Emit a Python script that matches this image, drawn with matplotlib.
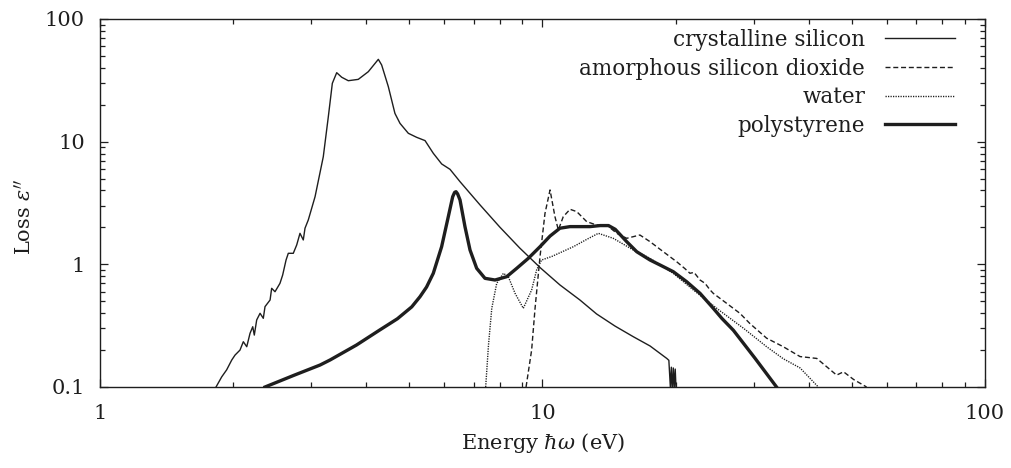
import matplotlib
matplotlib.use("Agg")
import matplotlib.pyplot as plt

plt.rcParams['font.family'] = ['DejaVu Serif']
plt.rcParams['mathtext.fontset'] = 'dejavuserif'
plt.rcParams['lines.scale_dashes'] = False

# ---- data ----
si_E = [1.829, 1.884, 1.933, 1.985, 2.019, 2.072, 2.108, 2.146, 2.183, 2.214, 2.232, 2.26, 2.30,
        2.339, 2.36, 2.423, 2.443, 2.486, 2.551, 2.587, 2.633, 2.664, 2.734, 2.783, 2.831, 2.88,
        2.906, 2.956, 3.062, 3.196, 3.281, 3.35, 3.427, 3.518, 3.64, 3.834, 4.04, 4.256, 4.33,
        4.483, 4.64, 4.764, 4.975, 5.195, 5.427, 5.665, 5.918, 6.18, 6.51, 7.225, 8.01, 8.88,
        9.9, 10.95, 12.15, 13.25, 14.58, 16.04, 17.5, 19.09, 19.3, 19.45, 19.55, 19.65, 19.75,
        19.85, 19.95, 20.05]
si_y = [0.1, 0.121, 0.138, 0.166, 0.182, 0.2, 0.234, 0.213, 0.274, 0.31, 0.265, 0.352, 0.399,
        0.363, 0.452, 0.512, 0.638, 0.598, 0.70, 0.818, 1.084, 1.23, 1.23, 1.438, 1.79, 1.58,
        1.97, 2.30, 3.56, 7.54, 16.0, 29.9, 36.5, 33.5, 31.4, 32.2, 37.2, 46.9, 42.2,
        28.1, 17.0, 14.1, 11.7, 10.85, 10.2, 8.04, 6.58, 5.95, 4.72, 3.05, 2.01, 1.36,
        0.933, 0.679, 0.512, 0.394, 0.314, 0.257, 0.216, 0.171, 0.165, 0.10, 0.145, 0.09, 0.143,
        0.10, 0.14, 0.09]

sio2_E = [9.18, 9.45, 9.62, 9.87, 10.13, 10.4, 10.67, 10.86, 11.14, 11.54, 11.95, 12.59, 13.26,
          13.97, 14.72, 15.5, 16.6, 17.5, 18.75, 20.1, 21.0, 21.54, 22.0, 22.7, 23.3, 23.9, 24.32,
          26.07, 27.95, 29.4, 32.1, 35.0, 38.2, 41.66, 44.0, 46.2, 47.9, 50.5, 54.0]
sio2_y = [0.1, 0.2, 0.438, 1.15, 2.6, 4.04, 2.445, 1.905, 2.445, 2.81, 2.69, 2.226, 2.09,
          2.09, 1.79, 1.63, 1.734, 1.53, 1.267, 1.05, 0.92, 0.845, 0.86, 0.745, 0.70, 0.62, 0.58,
          0.481, 0.398, 0.33, 0.25, 0.213, 0.177, 0.171, 0.145, 0.125, 0.133, 0.115, 0.1]

water_E = [7.44, 7.55, 7.68, 7.88, 8.16, 8.37, 8.67, 9.05, 9.45, 9.70, 9.95, 10.5, 11.74, 12.6,
           13.37, 14.45, 16.04, 17.5, 19.75, 21.92, 25.2, 28.5, 32.1, 35.0, 38.2, 42.0]
water_y = [0.1, 0.22, 0.438, 0.70, 0.845, 0.793, 0.58, 0.438, 0.618, 0.90, 1.084, 1.16, 1.392, 1.6,
           1.79, 1.63, 1.309, 1.12, 0.845, 0.618, 0.417, 0.30, 0.213, 0.17, 0.143, 0.1]

ps_E = [2.36, 2.75, 3.142, 3.31, 3.8, 4.29, 4.70, 5.064, 5.287, 5.47, 5.665, 5.916, 6.125, 6.267,
        6.33, 6.376, 6.43, 6.51, 6.68, 6.858, 7.10, 7.413, 7.81, 8.30, 8.745, 9.29, 9.87, 10.4,
        10.95, 11.54, 12.15, 12.8, 13.5, 14.1, 14.6, 15.5, 16.33, 17.5, 18.43, 19.75, 21.18, 22.7,
        24.32, 25.42, 27.0, 30.2, 33.8]
ps_y = [0.1, 0.125, 0.151, 0.166, 0.22, 0.292, 0.36, 0.45, 0.545, 0.653, 0.845, 1.392, 2.445, 3.56,
        3.86, 3.91, 3.75, 3.35, 2.03, 1.309, 0.928, 0.769, 0.745, 0.793, 0.928, 1.12, 1.392, 1.70,
        1.97, 2.03, 2.03, 2.03, 2.07, 2.07, 1.93, 1.53, 1.267, 1.084, 0.988, 0.871, 0.721, 0.58,
        0.438, 0.363, 0.29, 0.172, 0.1]

labels = ["crystalline silicon", "amorphous silicon dioxide", "water", "polystyrene"]
xticks = [1, 10, 100]
xticklabels = ["1", "10", "100"]
yticks = [0.1, 1, 10, 100]
yticklabels = ["0.1", "1", "10", "100"]

ink = "#1e1e1e"

fig = plt.figure(figsize=(10.12, 4.68), dpi=100)
ax = fig.add_axes([100/1012, 1 - 387/468, 885/1012, 368/468])

ax.plot(si_E, si_y, color=ink, lw=1.0, label=labels[0])
ax.plot(sio2_E, sio2_y, color=ink, lw=1.0, dashes=(3.6, 2.0), label=labels[1])
ax.plot(water_E, water_y, color=ink, lw=1.0, dashes=(0.9, 0.9), label=labels[2])
ax.plot(ps_E, ps_y, color=ink, lw=2.4, label=labels[3])

ax.set_xscale('log')
ax.set_yscale('log')
ax.set_xlim(1, 100)
ax.set_ylim(0.1, 100)
ax.set_xticks(xticks)
ax.set_xticklabels(xticklabels)
ax.set_yticks(yticks)
ax.set_yticklabels(yticklabels)

ax.tick_params(which='both', direction='in', top=True, right=True, color=ink, labelcolor=ink,
               labelsize=15, width=0.9)
ax.tick_params(which='major', length=6)
ax.tick_params(axis='x', which='major', pad=12)
ax.tick_params(axis='y', which='major', pad=11)
ax.tick_params(which='minor', length=3.5)
for s in ax.spines.values():
    s.set_color(ink)
    s.set_linewidth(1.0)

ax.set_xlabel(r"Energy $\hbar\omega$ (eV)", fontsize=15, color=ink)
ax.xaxis.set_label_coords(0.5, -(441 - 387 + 2) / 368)
ax.xaxis.label.set_va('center')
ax.set_ylabel(r"Loss $\epsilon''$", fontsize=15, color=ink)
ax.yaxis.set_label_coords((25 - 100) / 885, (387 - 217) / 368)
ax.yaxis.label.set_va('center')

leg = ax.legend(loc='upper right', bbox_to_anchor=(1.0 - 30/885, 1.0 - 10/368), frameon=False,
                markerfirst=False, fontsize=15.5, handlelength=3.25, handletextpad=0.93,
                labelspacing=0.31, borderaxespad=0.0, borderpad=0.0)
for t in leg.get_texts():
    t.set_color(ink)
    t.set_ha('right')

fig.savefig("out.png", dpi=100)
